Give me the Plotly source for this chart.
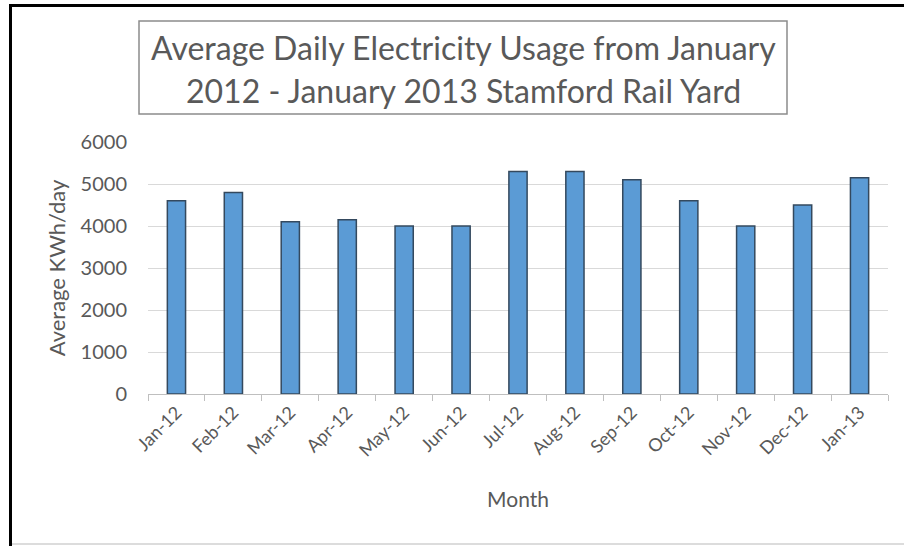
import plotly.graph_objects as go

months = ["Jan-12", "Feb-12", "Mar-12", "Apr-12", "May-12", "Jun-12", "Jul-12",
          "Aug-12", "Sep-12", "Oct-12", "Nov-12", "Dec-12", "Jan-13"]
usage = [4600, 4800, 4100, 4150, 4000, 4000, 5300, 5300, 5100, 4600, 4000, 4500, 5150]
y_ticks = [0, 1000, 2000, 3000, 4000, 5000, 6000]
title_lines = ["Average Daily Electricity Usage from January",
               "2012 - January 2013 Stamford Rail Yard"]

W, H = 904, 546
L, R, T, B = 148, 888, 142, 394  # plot area pixels

def px(x):
    return (x - L) / (R - L)

def py(y):
    return (B - y) / (B - T)

FONT = "Lato"
GRAY = "#595959"

fig = go.Figure(go.Bar(
    x=months, y=usage,
    marker=dict(color="#5b9bd5", line=dict(color="#34495e", width=1.5)),
    width=0.32,
))

shapes = [
    # outer frame
    dict(type="line", xref="paper", yref="paper", x0=px(10.5), x1=px(10.5), y0=py(4), y1=py(546),
         line=dict(color="black", width=3)),
    dict(type="line", xref="paper", yref="paper", x0=px(9), x1=px(904), y0=py(5.5), y1=py(5.5),
         line=dict(color="black", width=3)),
    dict(type="line", xref="paper", yref="paper", x0=px(12), x1=px(904), y0=py(544), y1=py(544),
         line=dict(color="#d0d0d0", width=1.5)),
    # title box
    dict(type="rect", xref="paper", yref="paper", x0=px(139), x1=px(787), y0=py(21), y1=py(114),
         line=dict(color="#8c8c8c", width=1.5), fillcolor="rgba(0,0,0,0)"),
]

annotations = [
    dict(text=title_lines[0], xref="paper", yref="paper", x=px(463), y=py(47),
         xanchor="center", yanchor="middle", showarrow=False,
         font=dict(family=FONT, size=32, color=GRAY)),
    dict(text=title_lines[1], xref="paper", yref="paper", x=px(463), y=py(90),
         xanchor="center", yanchor="middle", showarrow=False,
         font=dict(family=FONT, size=32, color=GRAY)),
]

fig.update_layout(
    width=W, height=H,
    margin=dict(l=L, r=W - R, t=T, b=H - B),
    paper_bgcolor="white", plot_bgcolor="white",
    showlegend=False,
    shapes=shapes, annotations=annotations,
    font=dict(family=FONT, color=GRAY),
)
fig.update_xaxes(
    showline=True, linecolor="#bfbfbf", linewidth=1,
    ticks="outside", tickson="boundaries", ticklen=6, tickcolor="#bfbfbf",
    tickangle=-45, tickfont=dict(family=FONT, size=18, color=GRAY),
    title=dict(text="Month", font=dict(family=FONT, size=21, color=GRAY), standoff=32),
    range=[-0.5, 12.5],
)
fig.update_yaxes(
    range=[0, 6000], tickvals=y_ticks,
    showgrid=True, gridcolor="#d9d9d9", gridwidth=1,
    zeroline=False, showline=False,
    tickfont=dict(family=FONT, size=20, color=GRAY),
    ticklabelstandoff=20,
    title=dict(text="Average KWh/day", font=dict(family=FONT, size=22, color=GRAY), standoff=8),
)

fig.write_html("out.html")
